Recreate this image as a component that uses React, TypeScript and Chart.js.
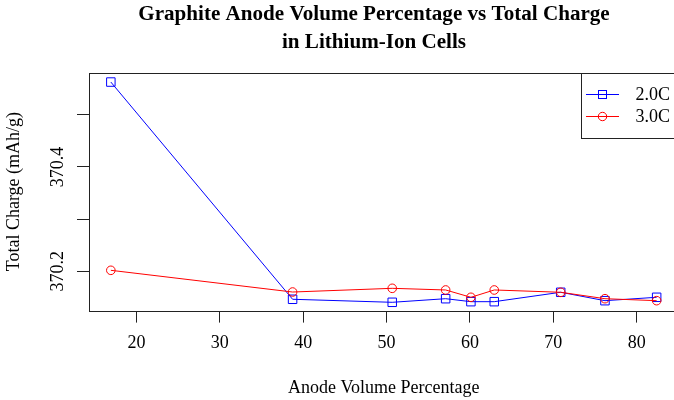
import React, { useEffect, useRef } from "react";
import { Chart, registerables } from "chart.js";

Chart.register(...registerables);

const anodeVolume = [16.93, 38.73, 50.68, 57.09, 60.12, 62.92, 70.89, 76.2, 82.4];
const charge2C = [370.5626, 370.1464, 370.1406, 370.1475, 370.1418, 370.1418, 370.1598, 370.1437, 370.1502];
const charge3C = [370.2019, 370.1603, 370.1674, 370.1642, 370.1502, 370.1642, 370.1598, 370.1475, 370.1437];
const seriesLabels = ["2.0C", "3.0C"];
const xTicks = [20, 30, 40, 50, 60, 70, 80];
const yTicks = [370.2, 370.3, 370.4, 370.5];
const yTickLabels = ["370.2", "", "370.4", ""];
const titleLines = ["Graphite Anode Volume Percentage vs Total Charge", "in Lithium-Ion Cells"];
const xTitle = "Anode Volume Percentage";
const yTitle = "Total Charge (mAh/g)";

const FONT = "'Liberation Serif', 'Times New Roman', serif";
const AXIS_COLOR = "#222";

const boxPlugin = {
  id: "rbox",
  afterDatasetsDraw(chart: any) {
    const { ctx, chartArea } = chart;
    ctx.save();
    ctx.strokeStyle = AXIS_COLOR;
    ctx.lineWidth = 1;
    ctx.strokeRect(
      Math.round(chartArea.left) + 0.5,
      Math.round(chartArea.top) + 0.5,
      Math.round(chartArea.right - chartArea.left),
      Math.round(chartArea.bottom - chartArea.top)
    );
    ctx.restore();
  },
};

const legendPlugin = {
  id: "rlegend",
  afterDatasetsDraw(chart: any) {
    const { ctx, chartArea } = chart;
    const left = 581;
    const top = Math.round(chartArea.top);
    const bottom = 138;
    ctx.save();
    ctx.fillStyle = "#fff";
    ctx.fillRect(left, top, 300, bottom - top);
    ctx.strokeStyle = AXIS_COLOR;
    ctx.lineWidth = 1;
    ctx.strokeRect(left + 0.5, top + 0.5, 300, bottom - top);
    const rows = [94.5, 116.5];
    chart.data.datasets.forEach((ds: any, i: number) => {
      const y = rows[i];
      ctx.strokeStyle = ds.borderColor;
      ctx.lineWidth = 1;
      ctx.beginPath();
      ctx.moveTo(586, y);
      ctx.lineTo(619, y);
      ctx.stroke();
      if (ds.pointStyle === "rect") {
        ctx.strokeRect(598.5, y - 4, 8, 8);
      } else {
        ctx.beginPath();
        ctx.arc(602.5, y, 4.2, 0, Math.PI * 2);
        ctx.stroke();
      }
      ctx.fillStyle = "#000";
      ctx.font = `18px ${FONT}`;
      ctx.textBaseline = "middle";
      ctx.textAlign = "left";
      ctx.fillText(ds.label, 635.5, y + 0.5);
    });
    ctx.restore();
  },
};

export default function App() {
  const ref = useRef<HTMLCanvasElement | null>(null);
  useEffect(() => {
    if (!ref.current) return;
    const chart = new Chart(ref.current, {
      type: "line",
      data: {
        datasets: [
          {
            label: seriesLabels[0],
            data: anodeVolume.map((x, i) => ({ x, y: charge2C[i] })),
            borderColor: "#0000ff",
            backgroundColor: "rgba(0,0,0,0)",
            pointBackgroundColor: "rgba(0,0,0,0)",
            pointBorderColor: "#0000ff",
            pointStyle: "rect",
            pointRadius: 6,
            pointBorderWidth: 1,
            borderWidth: 1,
            tension: 0,
            order: 1,
          },
          {
            label: seriesLabels[1],
            data: anodeVolume.map((x, i) => ({ x, y: charge3C[i] })),
            borderColor: "#ff0000",
            backgroundColor: "rgba(0,0,0,0)",
            pointBackgroundColor: "rgba(0,0,0,0)",
            pointBorderColor: "#ff0000",
            pointStyle: "circle",
            pointRadius: 4.3,
            pointBorderWidth: 1,
            borderWidth: 1,
            tension: 0,
            order: 0,
          },
        ],
      },
      options: {
        animation: false,
        responsive: false,
        devicePixelRatio: 1,
        layout: { padding: { left: 0, right: 0, top: 0, bottom: 0 } },
        plugins: {
          legend: { display: false },
          tooltip: { enabled: false },
          title: {
            display: true,
            text: titleLines,
            color: "#000",
            font: { family: FONT, size: 21.1, weight: "bold", lineHeight: 1.308 },
            padding: { top: 1.2, bottom: 16.3 },
          },
        },
        scales: {
          x: {
            type: "linear",
            min: 14.31,
            max: 85.02,
            afterBuildTicks: (s: any) => {
              s.ticks = xTicks.map((v) => ({ value: v }));
            },
            afterFit: (s: any) => {
              s.height = 89.4;
            },
            border: { display: false },
            grid: { drawOnChartArea: false, drawTicks: true, tickLength: 12, color: AXIS_COLOR, lineWidth: 1 },
            ticks: {
              color: "#000",
              font: { family: FONT, size: 18 },
              padding: 10,
              maxRotation: 0,
              autoSkip: false,
              callback: (v: any) => String(v),
            },
            title: {
              display: true,
              text: xTitle,
              color: "#000",
              font: { family: FONT, size: 18 },
              padding: { top: 0, bottom: 0.9 },
            },
          },
          y: {
            type: "linear",
            min: 370.1247,
            max: 370.5805,
            afterBuildTicks: (s: any) => {
              s.ticks = yTicks.map((v) => ({ value: v }));
            },
            afterFit: (s: any) => {
              s.width = 89;
            },
            border: { display: false },
            grid: { drawOnChartArea: false, drawTicks: true, tickLength: 12, color: AXIS_COLOR, lineWidth: 1 },
            ticks: {
              color: "#000",
              font: { family: FONT, size: 18 },
              padding: -1.5,
              minRotation: 90,
              maxRotation: 90,
              crossAlign: "center",
              autoSkip: false,
              callback: (_v: any, i: number) => yTickLabels[i],
            },
            title: {
              display: true,
              text: yTitle,
              color: "#000",
              font: { family: FONT, size: 18 },
              padding: { top: 3.2, bottom: 0 },
            },
          },
          // empty right-hand margin box (R's right margin); draws nothing
          margin: {
            type: "linear",
            position: "right",
            display: true,
            afterFit: (s: any) => {
              s.width = 69.5;
            },
            border: { display: false },
            grid: { display: false, drawTicks: false },
            ticks: { display: false },
          },
        },
      },
      plugins: [boxPlugin, legendPlugin],
    } as any);
    return () => chart.destroy();
  }, []);

  return (
    <div
      style={{
        position: "fixed",
        left: 0,
        top: 0,
        width: 674,
        height: 400,
        overflow: "hidden",
        background: "#fff",
      }}
    >
      <canvas ref={ref} width={748} height={400} style={{ display: "block", width: 748, height: 400 }} />
    </div>
  );
}
